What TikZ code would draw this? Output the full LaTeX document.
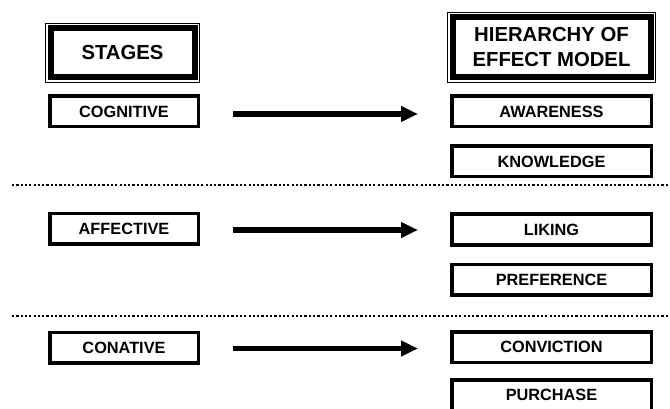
\documentclass[tikz,border=0pt]{standalone}
\usepackage{fontspec}
\setmainfont{Liberation Sans}
\usetikzlibrary{arrows.meta}
\begin{document}
\begin{tikzpicture}[x=1pt,y=-1pt,
  smallbox/.style={draw=black,line width=3.5pt,outer sep=0pt,inner sep=0pt,
    minimum width=#1,minimum height=30.5pt,font=\fontsize{16.3}{18}\selectfont\bfseries},
  headbox/.style={draw=black,line width=6pt,outer sep=0pt,inner sep=0pt,align=center,
    font=\fontsize{20.3}{25}\selectfont\bfseries},
  thinframe/.style={draw=black,line width=1pt},
  sep/.style={line width=2.4pt,dash pattern=on 2.2pt off 2.1pt},
  arr/.style={line width=5.5pt,-{Triangle[length=17pt,width=15pt]}}
]
\useasboundingbox (0,0) rectangle (670,409);
% headers
\node[headbox,minimum width=144pt,minimum height=49pt] (st) at (122.5,53) {STAGES};
\draw[thinframe] ([xshift=-5pt,yshift=-5pt]st.south west) rectangle ([xshift=5pt,yshift=5pt]st.north east);
\node[headbox,minimum width=198pt,minimum height=60pt] (hm) at (551.5,47.5) {HIERARCHY OF\\EFFECT MODEL};
\draw[thinframe] ([xshift=-5pt,yshift=-5pt]hm.south west) rectangle ([xshift=5pt,yshift=5pt]hm.north east);
% left stages
\node[smallbox=148.5pt] (cog) at (124,111.5) {COGNITIVE};
\node[smallbox=148.5pt] (aff) at (124,229) {AFFECTIVE};
\node[smallbox=148.5pt] (con) at (124,347.5) {CONATIVE};
% right steps
\node[smallbox=199.5pt] (aw) at (551.5,111.5) {AWARENESS};
\node[smallbox=199.5pt] (kn) at (551.5,161.5) {KNOWLEDGE};
\node[smallbox=199.5pt] (li) at (551.5,229.5) {LIKING};
\node[smallbox=199.5pt] (pr) at (551.5,279.5) {PREFERENCE};
\node[smallbox=199.5pt] (cv) at (551.5,347) {CONVICTION};
\node[smallbox=199.5pt] (pu) at (551.5,395) {PURCHASE};
% arrows
\draw[arr,shorten <=34.75pt,shorten >=33.75pt] ([yshift=-2.5pt]cog.east) -- ([yshift=-2.5pt]cog.east -| aw.west);
\draw[arr,shorten <=34.75pt,shorten >=33.75pt] ([yshift=-1pt]aff.east) -- ([yshift=-1pt]aff.east -| li.west);
\draw[arr,shorten <=34.75pt,shorten >=33.75pt] ([yshift=-1pt]con.east) -- ([yshift=-1pt]con.east -| cv.west);
% separators
\draw[sep] (12,185) -- (670,185);
\draw[sep] (12,316) -- (670,316);
\end{tikzpicture}
\end{document}
